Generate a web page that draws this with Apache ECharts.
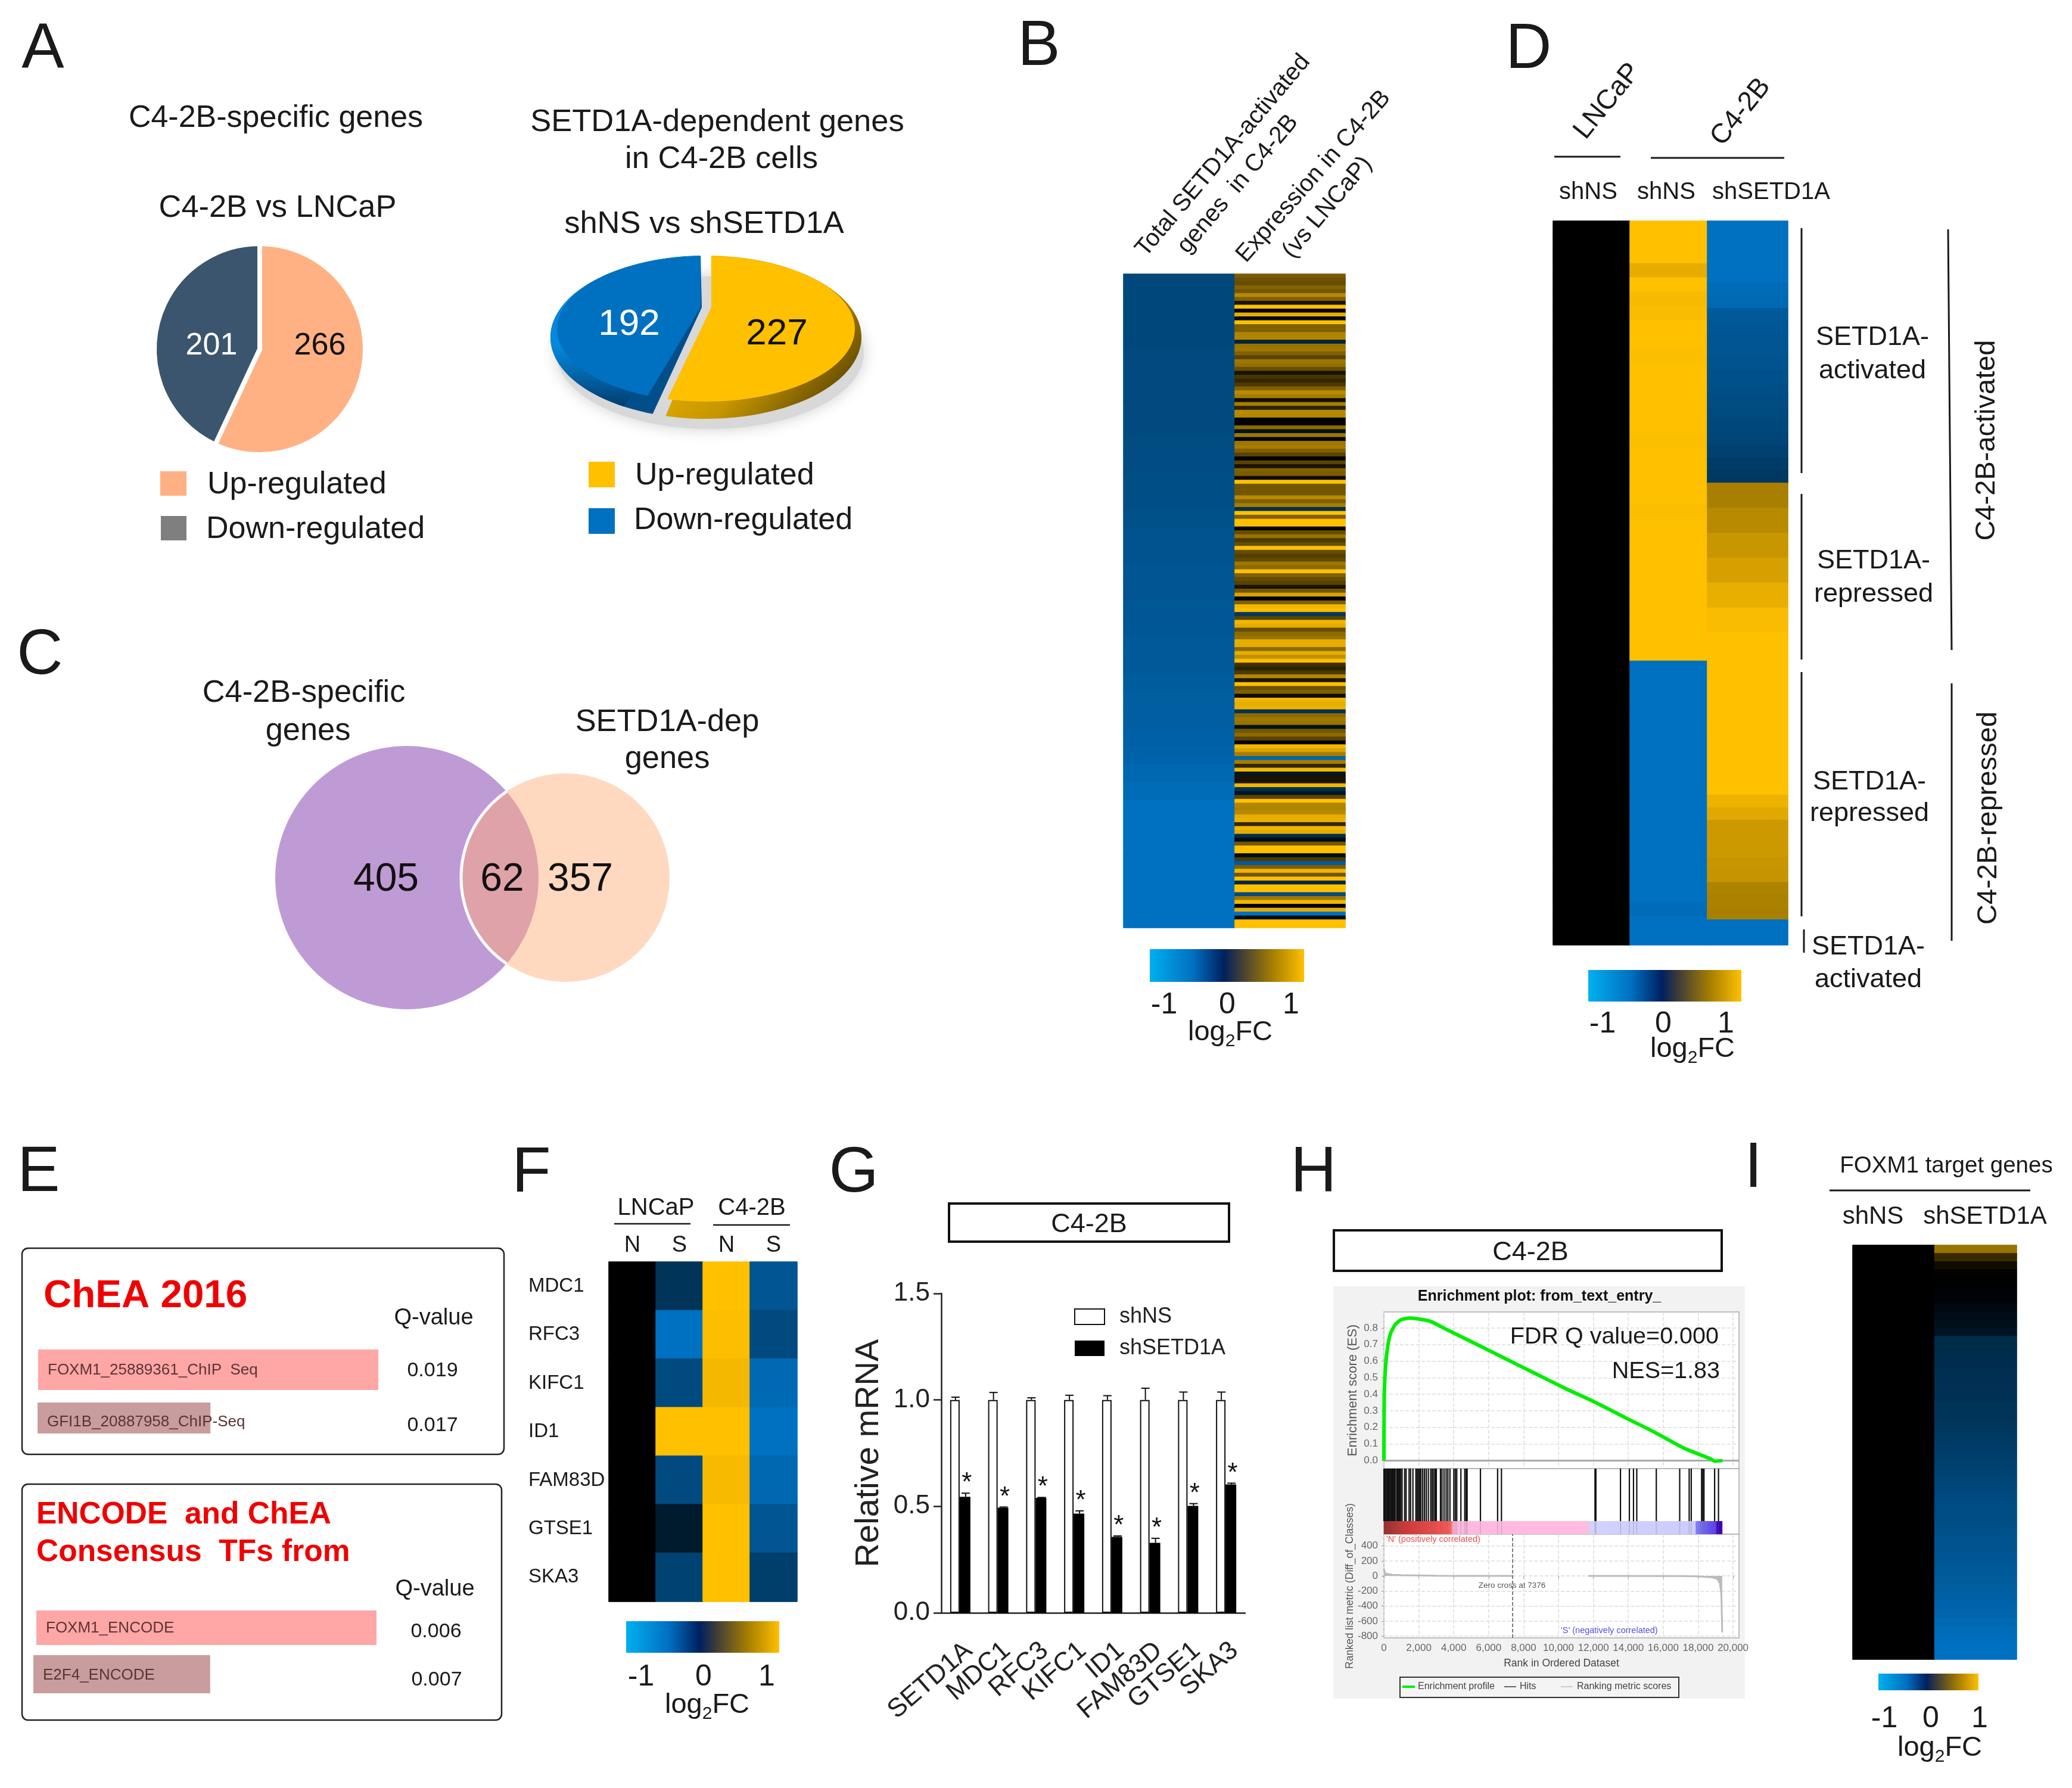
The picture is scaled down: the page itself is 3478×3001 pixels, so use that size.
<!DOCTYPE html>
<html><head><meta charset="utf-8">
<style>html,body{margin:0;padding:0;background:#fff}#c{width:3478px;height:3001px}</style>
<script src="https://cdn.jsdelivr.net/npm/echarts@6/dist/echarts.min.js"></script>
</head><body><div id="c"></div>
<script>
// ---- data ----
const pieAValues = [266, 201];
const pieBValues = [227, 192];
const vennValues = [405, 62, 357];
const pieLegendNames = ['Up-regulated', 'Down-regulated'];

const panelBTotal = [-.32,-.32,-.32,-.32,-.33,-.33,-.33,-.33,-.33,-.34,-.34,-.35,-.35,-.36,-.37,-.37,-.38,-.38,-.39,-.39,-.40,-.40,-.41,-.42,-.42,-.43,-.44,-.46,-.48,-.50,-.50,-.50,-.50,-.50,-.50,-.50];
const panelBExpr = [.48,.42,.40,.52,.45,.72,.5,.1,1,0,.9,-.05,1,.5,.5,.68,.7,-.15,.6,.62,.5,.35,.62,.58,.4,.1,.28,.2,.3,.5,.72,.65,.08,.65,.18,.72,.7,0,0,.55,-.08,.62,
 .02,.62,.65,.5,.35,0,.35,.1,.5,.48,.05,1,.45,.45,.45,.72,.5,.65,-.22,1,.5,1,1,.02,.4,.6,.3,.4,1,.4,.33,.38,.62,.55,1,.5,.4,.35,.1,.45,.85,0,.5,
 .95,.98,-.25,.35,.95,.9,.4,.55,.6,.9,.9,.55,.9,.75,1,.25,.18,.3,.7,.12,1,.42,.5,.06,.95,.9,.92,-.22,.55,.62,.6,-.08,.45,.55,.35,.02,.95,.85,.65,-.45,.65,.2,
 .95,-.1,.1,.1,.95,-.22,-.1,.35,1,.7,.68,.72,.9,.92,.2,.95,.9,-.2,-.05,.45,1,1,-.05,.3,-.4,.5,.95,.45,1,-.18,1,1,-.33,.62,.95,0,.9,-.5,-.05,1,1];

const panelDLNCaP = [0,0,0,0,0,0,0,0,0,0,0,0,0,0,0,0,0,0,0,0,0,0,0,0,0,0,0,0,0,0,0,0,0,0,0,0,0,0,0,0,0,0,0,0,0,0,0,0,0,0,0];
const panelDNS = [1,1,1,.9,1,.97,.98,1,1,.99,1,1,1,1,1,.99,1,1,1,1,.99,1,1,1,1,1,1,1,1,1,1,-.5,-.5,-.5,-.5,-.5,-.5,-.5,-.5,-.5,-.5,-.5,-.5,-.5,-.5,-.5,-.5,-.5,-.48,-.5,-.5];
const panelDKD = [-.5,-.5,-.5,-.5,-.5,-.48,-.47,-.4,-.39,-.38,-.38,-.37,-.36,-.35,-.34,-.33,-.32,-.31,-.29,-.27,-.25,.66,.66,.72,.72,.78,.78,.84,.84,.91,.91,.98,.98,1,1,1,1,1,1,1,1,1,1,1,1,1,.93,.88,.8,.8,.8,.78,.77,.68,.67,.66,-.5,-.5];

const genesF = ['MDC1','RFC3','KIFC1','ID1','FAM83D','GTSE1','SKA3'];
const panelFCols = ['N','S','N','S'];
const panelFLN = [0,0,0,0,0,0,0];
const panelFLS = [-.23,-.5,-.33,1,-.33,-.12,-.3];
const panelFCN = [1,.99,.96,1,.97,1,1];
const panelFCS = [-.38,-.33,-.47,-.5,-.46,-.38,-.28];

const panelINS = [0,0,0,0,0,0,0,0,0,0,0,0,0,0,0,0,0,0,0,0,0,0,0,0,0,0,0,0,0,0,0,0,0,0,0,0,0,0,0,0,0,0,0,0,0,0,0,0,0,0];
const panelIKD = [.6,.22,.06,.01,0,-.01,-.02,-.04,-.06,-.07,-.09,-.19,-.19,-.20,-.20,-.21,-.21,-.22,-.22,-.23,-.23,-.24,-.25,-.26,-.27,-.28,-.29,-.30,-.31,-.32,-.33,-.34,-.34,-.35,-.36,-.37,-.37,-.38,-.39,-.40,-.41,-.42,-.43,-.44,-.45,-.47,-.48,-.49,-.5,-.5];

const chea = ['FOXM1_25889361_ChIP  Seq','GFI1B_20887958_ChIP-Seq'];
const cheaScore = [100, 51];
const cheaQ = ['0.019','0.017'];
const encode = ['FOXM1_ENCODE','E2F4_ENCODE'];
const encodeScore = [100, 51];
const encodeQ = ['0.006','0.007'];

const genesG = ['SETD1A','MDC1','RFC3','KIFC1','ID1','FAM83D','GTSE1','SKA3'];
const shNS = [1,1,1,1,1,1,1,1];
const shNSErr = [.013,.035,.01,.022,.02,.055,.037,.037];
const shSETD1A = [.545,.494,.54,.466,.357,.329,.502,.603];
const shSETD1AErr = [.017,.003,.002,.013,.004,.021,.011,.006];

const esCurve = [[0,0],[17,.375],[85,.553],[220,.69],[390,.77],[645,.82],[984,.85],[1493,.86],[2086,.853],[2680,.84],[3613,.79],[5310,.702],[7000,.613],[8700,.524],[10400,.435],[12095,.352],[13790,.261],[15487,.172],[17183,.075],[18710,.01],[18965,-.004],[19390,0]];
const hitRanks = [0,60,120,180,240,300,360,420,480,540,600,640,730,790,850,910,970,1040,1187,1272,1442,1526,1662,1832,1900,1970,2040,2120,2222,2323,2425,2544,2680,2764,2849,2934,3002,3239,3324,3443,3562,3663,3782,4003,4087,4172,4410,4630,4715,4766,5529,6513,6733,12092,12143,13551,14060,14297,14484,15603,16943,17486,17605,18198,18266,18334,18944,19165];
const metricCurve = [[0,100],[30,60],[100,30],[500,15],[1000,10],[3000,3],[4000,1],[7376,0],[7377,null],[11700,null],[11701,0],[17000,-2],[18000,-5],[18800,-20],[19100,-40],[19250,-100],[19330,-250],[19380,-750]];
const rankTicks = [0,2000,4000,6000,8000,10000,12000,14000,16000,18000,20000];
const esTicks = [0,.1,.2,.3,.4,.5,.6,.7,.8];
const metricTicks = [-800,-600,-400,-200,0,200,400];
const rankExtent = [0,19390];

// ---- helpers ----
const FONT = "'Liberation Sans', Arial, sans-serif";
const G = echarts.graphic;
const graphics = [], grids = [], xAxes = [], yAxes = [], series = [], heatIdx = [];
const heatStops = ['#00B0F0','#0070C0','#000000','#806000','#FFC000'];

function heatColor(v){
  const p=(Math.max(-1,Math.min(1,v))+1)*2, i=Math.min(3,Math.floor(p)), f=p-i;
  const c=s=>[1,3,5].map(k=>parseInt(s.substr(k,2),16));
  const a=c(heatStops[i]), b=c(heatStops[i+1]);
  return 'rgb('+a.map((x,k)=>Math.round(x+(b[k]-x)*f)).join(',')+')';
}
function T(text, x, y, size, o) {
  o = o || {};
  const r=o.rot||0;
  graphics.push({type:'text', x:x+Math.sin(r)*8, y:y+Math.cos(r)*8, rotation:r, z:o.z||100, silent:true,
    style:{text:text, font:(o.italic?'italic ':'')+(o.bold?'bold ':'')+size+'px '+FONT, fill:o.fill||'#1a1a1a',
      textAlign:o.align||'center', textVerticalAlign:'middle'}});
}
function Rect(x,y,w,h,o){ o=o||{};
  graphics.push({type:'rect', z:o.z==null?50:o.z, silent:true, shape:{x:x,y:y,width:w,height:h,r:o.r||0},
    style:{fill:o.fill||'none', stroke:o.stroke||'none', lineWidth:o.lw||0, shadowBlur:o.blur||0, shadowColor:o.shadow||'transparent'}});
}
function L(x1,y1,x2,y2,w,c){
  graphics.push({type:'line', z:60, silent:true, shape:{x1:x1,y1:y1,x2:x2,y2:y2}, style:{stroke:c||'#1a1a1a', lineWidth:w||2}});
}
function colorbar(x,y,w,h,labels,ly,lx,lfy,size){
  Rect(x,y,w,h,{fill:new G.LinearGradient(0,0,1,0,[
    {offset:0,color:'#00B0F0'},{offset:.28,color:'#0070C0'},{offset:.48,color:'#002060'},
    {offset:.58,color:'#3a3a3a'},{offset:.8,color:'#A88000'},{offset:1,color:'#FFC000'}])});
  T('-1',labels[0],ly,size||50); T('0',labels[1],ly,size||50); T('1',labels[2],ly,size||50);
  graphics.push({type:'text', x:lx, y:lfy, z:100, silent:true, style:{text:'{a|log}{s|2}{a|FC}', textAlign:'center', textVerticalAlign:'middle',
    fill:'#1a1a1a', rich:{a:{fontSize:47,fontFamily:FONT,fill:'#1a1a1a',lineHeight:60},s:{fontSize:30,fontFamily:FONT,fill:'#1a1a1a',verticalAlign:'bottom',lineHeight:42}}}});
}
function addGrid(l,t,w,h,x,y,extra){
  const g = grids.length;
  grids.push(Object.assign({left:l,top:t,width:w,height:h,containLabel:false},extra||{}));
  xAxes.push(Object.assign({gridIndex:g},x)); yAxes.push(Object.assign({gridIndex:g},y));
  return g;
}
function idxArr(n){ return Array.from({length:n},(_,i)=>String(i)); }
function heat(name,l,t,w,h,cols,o){
  o=o||{};
  const rows = cols[0].length;
  const g = addGrid(l,t,w,h,
    Object.assign({type:'category',data:o.xcats||cols.map((_,i)=>String(i)),show:!!o.xcats,axisLine:{show:false},axisTick:{show:false},splitArea:{show:false}},o.xopt||{}),
    Object.assign({type:'category',data:o.ycats||idxArr(rows),inverse:true,show:!!o.ycats,axisLine:{show:false},axisTick:{show:false},splitArea:{show:false}},o.yopt||{}));
  const data=[]; cols.forEach((c,i)=>c.forEach((v,j)=>data.push({value:[i,j,v],itemStyle:{borderColor:heatColor(v),borderWidth:1}})));
  heatIdx.push(series.length);
  series.push({name:name,type:'heatmap',xAxisIndex:g,yAxisIndex:g,data:data,progressive:0,emphasis:{disabled:true},silent:true});
}

// ---- panel letters ----
[['A',72,76],['B',1744,71],['D',2566,76],['C',67,1093],['E',65,1961],['F',892,1962],['G',1433,1962],['H',2205,1961],['I',2943,1954]]
  .forEach(a=>T(a[0],a[1],a[2],107));

// ---- panel A ----
T('C4-2B-specific genes',463,191,52); T('C4-2B vs LNCaP',466,342,52.4);
T('SETD1A-dependent genes',1204,198,52.5); T('in C4-2B cells',1211,260,52.5); T('shNS vs shSETD1A',1182,369,52.5);
series.push({name:'C4-2B vs LNCaP',type:'pie',center:[436,586],radius:[0,177],startAngle:90,clockwise:true,silent:true,
  label:{show:false},labelLine:{show:false},
  itemStyle:{borderColor:'#fff',borderWidth:8},
  data:[{name:pieLegendNames[0],value:pieAValues[0],itemStyle:{color:'#FFB183'}},{name:pieLegendNames[1],value:pieAValues[1],itemStyle:{color:'#3C556E'}}]});
T(String(pieAValues[1]),355,573,52,{fill:'#fff'}); T(String(pieAValues[0]),537,573,52,{fill:'#111'});
Rect(269,791,44,41,{fill:'#FFB183'}); Rect(270,866,43,41,{fill:'#7F7F7F'});
T(pieLegendNames[0],348,806,52,{align:'left'}); T(pieLegendNames[1],346,881,52,{align:'left'});

// tilted pie
graphics.push({type:'ellipse',z:0,silent:true,shape:{cx:1192,cy:592,rx:258,ry:128},style:{fill:'#d8d8d8',shadowBlur:26,shadowColor:'#cfcfcf'}});
const tiltTotal = pieBValues[0]+pieBValues[1];
function arcPts(cx,cy,rx,ry,a0,a1,apex){
  const pts=apex.slice(); const n=60;
  for(let i=0;i<=n;i++){const t=(a0+(a1-a0)*i/n)*Math.PI/180; pts.push([cx+rx*Math.sin(t),cy-ry*Math.cos(t)]);}
  return pts;
}
series.push({name:'shNS vs shSETD1A',type:'custom',coordinateSystem:'none',silent:true,clip:false,
  data:pieBValues,
  renderItem:function(p,api){
    const i=p.dataIndex, v=api.value(0), sw=v/tiltTotal*360;
    const start = i===0?0:pieBValues[0]/tiltTotal*360, end=start+sw;
    const rimC = i===0 ? new G.LinearGradient(0,0,1,1,[{offset:0,color:'#FFC000'},{offset:.55,color:'#C79700'},{offset:.85,color:'#6b5000'},{offset:1,color:'#574100'}])
                       : new G.LinearGradient(0,0,0,1,[{offset:0,color:'#0085D8'},{offset:.6,color:'#0688DC'},{offset:1,color:'#003E70'}]);
    const face = i===0?'#FFC000':'#0070C0';
    const a0=i===0?start+2:start+5, a1=i===0?end:end-2;
    const apexR=i===0?[[1194,516]]:[[1178,516]];
    const apexF=i===0?[[1194,516]]:[[1176,516]];
    const kids=[];
    if(i===1) kids.push({type:'polygon',shape:{points:arcPts(1185,566,261,137,a0,a1,apexR)},style:{fill:'#004f8a'}});
    kids.push({type:'polygon',shape:{points:arcPts(1185,566,261,137,a0+(i===0?0:12),a1,apexF)},style:{fill:rimC}});
    kids.push({type:'polygon',shape:{points:arcPts(1185,552,250,122,a0+(i===0?0:3),a1,apexF)},style:{fill:face}});
    kids.push({type:'text',x:i===0?1304:1056,y:i===0?561:545,z2:5,style:{text:String(v),font:'62px '+FONT,fill:i===0?'#111':'#fff',textAlign:'center',textVerticalAlign:'middle'}});
    return {type:'group',children:kids};
  }});
Rect(988,775,44,43,{fill:'#FFC000'}); Rect(988,853,44,43,{fill:'#0070C0'});
T(pieLegendNames[0],1066,791,52,{align:'left'}); T(pieLegendNames[1],1064,866,52,{align:'left'});

// ---- panel C ----
T('C4-2B-specific',510,1156,52.4); T('genes',517,1220,52.4); T('SETD1A-dep',1120,1205,52.4); T('genes',1120,1267,52.4);
const vc1=[683,1473,221], vc2=[949,1473,175];
function lensPts(){
  const d=vc2[0]-vc1[0], a=(d*d+vc1[2]*vc1[2]-vc2[2]*vc2[2])/(2*d), h=Math.sqrt(vc1[2]*vc1[2]-a*a);
  const t1=Math.atan2(h,a), t2=Math.atan2(h,d-a), pts=[], arc=[];
  for(let i=0;i<=48;i++){const t=-t1+2*t1*i/48; pts.push([vc1[0]+vc1[2]*Math.cos(t),vc1[1]+vc1[2]*Math.sin(t)]);}
  for(let i=0;i<=48;i++){const t=t2-2*t2*i/48; const q=[vc2[0]-vc2[2]*Math.cos(t),vc2[1]+vc2[2]*Math.sin(t)]; pts.push(q); arc.push(q);}
  return {pts:pts,arc:arc};
}
series.push({name:'Venn',type:'custom',coordinateSystem:'none',silent:true,clip:false,data:vennValues,
  renderItem:function(p,api){
    const i=p.dataIndex, v=String(api.value(0)), lens=lensPts();
    if(i===0) return {type:'group',children:[
      {type:'circle',z2:1,shape:{cx:vc1[0],cy:vc1[1],r:vc1[2]},style:{fill:'#BF9BD6'}},
      {type:'text',z2:30,x:648,y:1477,style:{text:v,font:'66px '+FONT,fill:'#111',textAlign:'center',textVerticalAlign:'middle'}}]};
    if(i===2) return {type:'group',children:[
      {type:'circle',z2:2,shape:{cx:vc2[0],cy:vc2[1],r:vc2[2]},style:{fill:'#FFD9BF'}},
      {type:'text',z2:30,x:974,y:1477,style:{text:v,font:'66px '+FONT,fill:'#111',textAlign:'center',textVerticalAlign:'middle'}}]};
    return {type:'group',children:[
      {type:'polygon',z2:10,shape:{points:lens.pts},style:{fill:'#DFA2A8'}},
      {type:'polyline',z2:11,shape:{points:lens.arc},style:{fill:'none',stroke:'#fff',lineWidth:5}},
      {type:'text',z2:30,x:843,y:1477,style:{text:v,font:'66px '+FONT,fill:'#111',textAlign:'center',textVerticalAlign:'middle'}}]};
  }});

// ---- panel B ----
heat('Total SETD1A-activated',1886,460,187,1097,[panelBTotal]);
heat('Expression in C4-2B',2073,460,185,1097,[panelBExpr]);
T('Total SETD1A-activated',2047,256,40.5,{rot:0.87});
T('genes  in C4-2B',2072,304,40.5,{rot:0.87});
T('Expression in C4-2B',2199,291,40.5,{rot:0.85});
T('(vs LNCaP)',2222,343,40.5,{rot:0.87});
colorbar(1930,1593,259,55,[1954,2060,2167],1679,2065,1733);

// ---- panel D ----
heat('Panel D LNCaP shNS',2607,371,129,1215,[panelDLNCaP]);
heat('Panel D C4-2B shNS',2736,371,130,1215,[panelDNS]);
heat('Panel D C4-2B shSETD1A',2866,371,135,1215,[panelDKD]);
T('LNCaP',2692,165,46,{rot:0.89}); T('C4-2B',2916,183,46,{rot:0.89});
L(2609,263,2720,263,3); L(2771,265,2995,265,3);
T('shNS',2666,315,40); T('shNS',2797,315,40); T('shSETD1A',2973,315,40);
L(3024,383,3024,794,3); L(3024,829,3024,1107,3); L(3024,1128,3024,1538,3); L(3028,1560,3028,1599,3);
L(3270,385,3276,1091,3); L(3276,1147,3276,1579,3);
T('SETD1A-',3143,559,45); T('activated',3143,615,45); T('SETD1A-',3145,934,45); T('repressed',3145,990,45);
T('SETD1A-',3138,1305,45); T('repressed',3138,1358,45); T('SETD1A-',3136,1582,45); T('activated',3136,1637,45);
T('C4-2B-activated',3327,739,47,{rot:Math.PI/2}); T('C4-2B-repressed',3330,1373,47,{rot:Math.PI/2});
colorbar(2666,1628,257,53,[2690,2792,2897],1711,2841,1761);

// ---- panel E ----
Rect(37,2095,809,346,{stroke:'#222',lw:2.5,r:10,z:10}); Rect(37,2491,805,396,{stroke:'#222',lw:2.5,r:10,z:10});
T('ChEA 2016',73,2168,65.5,{bold:true,fill:'#F00000',align:'left'}); T('Q-value',728,2205,38);
T(cheaQ[0],726,2293,34); T(cheaQ[1],726,2385,34);
T('ENCODE  and ChEA',61,2535,51.5,{bold:true,fill:'#F00000',align:'left'}); T('Consensus  TFs from',61,2598,51.5,{bold:true,fill:'#F00000',align:'left'});
T('Q-value',730,2660,38); T(encodeQ[0],732,2731,34); T(encodeQ[1],733,2812,34);
function enrichBar(name,cat,score,l,t,h,w,color,dy){
  const g=addGrid(l,t,w,h,{type:'value',min:0,max:100,show:false},{type:'category',data:[cat],show:false});
  series.push({name:name,type:'bar',xAxisIndex:g,yAxisIndex:g,barWidth:'100%',silent:true,itemStyle:{color:color},
    label:{show:true,position:'insideLeft',distance:16,offset:[0,dy],fontSize:26,fontFamily:FONT,color:'#5c3434',formatter:p=>p.name},data:[score]});
}
enrichBar('ChEA top',chea[0],cheaScore[0],64,2265,68,571,'#FFA6A6',1);
enrichBar('ChEA second',chea[1],cheaScore[1],63,2354,52,569,'#C99D9D',7);
enrichBar('ENCODE top',encode[0],encodeScore[0],61,2703,58,571,'#FFA6A6',1);
enrichBar('ENCODE second',encode[1],encodeScore[1],56,2778,64,582,'#C99D9D',2);

// ---- panel F ----
heat('Panel F',1022,2118,316,570,[panelFLN,panelFLS,panelFCN,panelFCS],{
  xcats:panelFCols, ycats:genesF,
  xopt:{position:'top',axisLabel:{show:true,fontSize:38,fontFamily:FONT,color:'#1a1a1a',margin:8,interval:0}},
  yopt:{axisLabel:{show:true,fontSize:33,fontFamily:FONT,color:'#1a1a1a',align:'left',margin:135,interval:0}}});
T('LNCaP',1101,2020,40); T('C4-2B',1262,2020,40);
L(1031,2054,1159,2054,2.5); L(1197,2056,1326,2056,2.5);
colorbar(1051,2721,257,53,[1076,1181,1287],2807,1187,2862);

// ---- panel G ----
Rect(1593,2020,470,64,{stroke:'#111',lw:4}); T('C4-2B',1828,2048,45);
const gGrid=addGrid(1580,2171,510,536,
  {type:'category',data:genesG,axisLine:{lineStyle:{color:'#222',width:2.5}},axisTick:{alignWithLabel:true,length:13,lineStyle:{color:'#222',width:2.5}},
   axisLabel:{rotate:41,interval:0,fontSize:44,fontFamily:FONT,color:'#222',margin:41,verticalAlign:'top',align:'right'}},
  {type:'value',min:0,max:1.5,interval:.5,name:'Relative mRNA',nameLocation:'middle',nameGap:93,nameTextStyle:{fontSize:56,fontFamily:FONT,color:'#222'},
   splitLine:{show:false},axisLine:{show:true,lineStyle:{color:'#222',width:2.5}},axisTick:{show:true,length:13,lineStyle:{color:'#222',width:2.5}},
   axisLabel:{fontSize:44,fontFamily:FONT,color:'#222',margin:19,formatter:v=>v.toFixed(1)}});
series.push({name:'shNS',type:'bar',xAxisIndex:gGrid,yAxisIndex:gGrid,barWidth:16,barGap:0,silent:true,itemStyle:{color:'#fff',borderColor:'#111',borderWidth:2},data:shNS});
series.push({name:'shSETD1A',type:'bar',xAxisIndex:gGrid,yAxisIndex:gGrid,barWidth:18,barGap:0,silent:true,itemStyle:{color:'#000'},data:shSETD1A});
function errData(v,e){return v.map((m,i)=>[i,m,m+e[i]]);}
function errSeries(name,data,off,star){
  series.push({name:name,type:'custom',xAxisIndex:gGrid,yAxisIndex:gGrid,silent:true,clip:false,data:data,
    renderItem:function(p,api){
      const a=api.coord([api.value(0),api.value(1)]), b=api.coord([api.value(0),api.value(2)]);
      const x=a[0]+off, ch=[
        {type:'line',shape:{x1:x,y1:a[1],x2:x,y2:b[1]},style:{stroke:'#111',lineWidth:2}},
        {type:'line',shape:{x1:x-7,y1:b[1],x2:x+7,y2:b[1]},style:{stroke:'#111',lineWidth:2}}];
      if(star) ch.push({type:'text',x:x+2,y:b[1]-16,style:{text:'*',font:'44px '+FONT,fill:'#111',textAlign:'center',textVerticalAlign:'middle'}});
      return {type:'group',children:ch};
    }});
}
errSeries('shNS error',errData(shNS,shNSErr),-8,false);
errSeries('shSETD1A error',errData(shSETD1A,shSETD1AErr),9,true);

// ---- panel H ----
Rect(2239,2065,651,68,{stroke:'#111',lw:4}); T('C4-2B',2569,2095,45);
Rect(2238,2159,691,692,{fill:'#F2F2F2',z:-1});
T('Enrichment plot: from_text_entry_',2584,2168,25,{bold:true,fill:'#111'});
T('FDR Q value=0.000',2885,2236,39.5,{align:'right'}); T('NES=1.83',2887,2294,39.5,{align:'right'});
const gridBox={show:true,backgroundColor:'#fff',borderColor:'#aaa',borderWidth:1.5};
const gridDash={show:true,lineStyle:{color:'#ddd',type:'dashed',width:1.5}};
const grayLab={fontSize:17,fontFamily:FONT,color:'#666'};
const gEs=addGrid(2323,2202,596,263,
  {type:'value',min:0,max:20339,axisLine:{show:false},axisTick:{show:false,customValues:rankTicks},axisLabel:{show:false,customValues:rankTicks},splitLine:gridDash},
  {type:'value',min:-.049,max:.897,name:'Enrichment score (ES)',nameLocation:'middle',nameGap:41,nameTextStyle:{fontSize:22,fontFamily:FONT,color:'#555'},
   axisLine:{show:false},axisTick:{show:true,length:4,lineStyle:{color:'#999'},customValues:esTicks},splitLine:gridDash,
   axisLabel:Object.assign({margin:10,customValues:esTicks,formatter:v=>v.toFixed(1)},grayLab)},gridBox);
series.push({name:'Enrichment profile',type:'line',xAxisIndex:gEs,yAxisIndex:gEs,data:esCurve,showSymbol:false,smooth:.2,silent:true,clip:false,
  lineStyle:{color:'#00EE00',width:6},z:5,
  markLine:{silent:true,symbol:'none',label:{show:false},lineStyle:{color:'#aaa',width:3,type:'solid'},data:[{yAxis:0}],z:3}});
const gHit=addGrid(2323,2465,596,110,{type:'value',min:0,max:20339,show:false},{type:'value',min:0,max:1,show:false},gridBox);
series.push({name:'Rank colour band',type:'custom',xAxisIndex:gHit,yAxisIndex:gHit,silent:true,data:[rankExtent],
  renderItem:function(p,api){
    const a=api.coord([api.value(0),.2]), b=api.coord([api.value(1),0]);
    return {type:'rect',shape:{x:a[0],y:a[1],width:b[0]-a[0],height:b[1]-a[1]},style:{fill:new G.LinearGradient(0,0,1,0,[
      {offset:0,color:'#A81C1C'},{offset:.05,color:'#D03030'},{offset:.12,color:'#F04040'},{offset:.19,color:'#FF5555'},{offset:.2,color:'#FF7070'},
      {offset:.205,color:'#FFB8E0'},{offset:.405,color:'#FFBBE0'},{offset:.605,color:'#FFBBE0'},{offset:.607,color:'#D2D2FF'},
      {offset:.92,color:'#CCCCFF'},{offset:.922,color:'#7F7FF5'},{offset:.98,color:'#5A3FE8'},{offset:.985,color:'#4000B8'},{offset:1,color:'#4000B8'}])}};
  }});
series.push({name:'Hits',type:'custom',xAxisIndex:gHit,yAxisIndex:gHit,silent:true,data:hitRanks.map(r=>[r]),
  renderItem:function(p,api){
    const a=api.coord([api.value(0),1]), m=api.coord([api.value(0),.2]), b=api.coord([api.value(0),0]);
    return {type:'group',children:[
      {type:'line',shape:{x1:a[0],y1:a[1],x2:m[0],y2:m[1]},style:{stroke:'#111',lineWidth:2.2}},
      {type:'line',shape:{x1:m[0],y1:m[1],x2:b[0],y2:b[1]},style:{stroke:'rgba(110,110,110,.22)',lineWidth:2}}]};
  }});
const gMet=addGrid(2323,2575,596,174,
  {type:'value',min:0,max:20339,axisLine:{show:false},axisTick:{show:true,length:4,lineStyle:{color:'#999'},customValues:rankTicks},splitLine:gridDash,
   axisLabel:Object.assign({margin:9,customValues:rankTicks,formatter:v=>v.toLocaleString('en-US')},grayLab),
   name:'Rank in Ordered Dataset',nameLocation:'middle',nameGap:34,nameTextStyle:{fontSize:17.5,fontFamily:FONT,color:'#444'}},
  {type:'value',min:-823,max:555,name:'Ranked list metric (Diff_of_Classes)',nameLocation:'middle',nameGap:45,nameTextStyle:{fontSize:17.5,fontFamily:FONT,color:'#555'},
   axisLine:{show:false},axisTick:{show:true,length:4,lineStyle:{color:'#999'},customValues:metricTicks},splitLine:gridDash,
   axisLabel:Object.assign({margin:10,customValues:metricTicks},grayLab)},gridBox);
series.push({name:'Ranking metric scores',type:'line',xAxisIndex:gMet,yAxisIndex:gMet,data:metricCurve,showSymbol:false,silent:true,connectNulls:false,
  lineStyle:{color:'#bbb',width:3},areaStyle:{color:'#bbb',opacity:1},
  markLine:{silent:true,symbol:'none',label:{show:false},lineStyle:{color:'#555',width:1.5,type:'dashed'},data:[{xAxis:7376}]}});
T("'N' (positively correlated)",2327,2576,14.5,{align:'left',fill:'#F05050'});
T("'S' (negatively correlated)",2620,2729,14.5,{align:'left',fill:'#5050E0'});
T('Zero cross at 7376',2538,2653,13.5,{fill:'#555'});
Rect(2350,2815,468,34,{stroke:'#333',lw:2,fill:'#F4F4F4',z:20});
L(2354,2831,2375,2831,4,'#00EE00'); T('Enrichment profile',2380,2823,16,{align:'left',fill:'#444'});
L(2525,2831,2545,2831,2,'#666'); T('Hits',2551,2823,16,{align:'left',fill:'#444'});
L(2620,2831,2640,2831,2,'#ccc'); T('Ranking metric scores',2647,2823,16,{align:'left',fill:'#444'});

// ---- panel I ----
heat('FOXM1 target genes',3110,2090,275,695,[panelINS,panelIKD]);
T('FOXM1 target genes',3267,1949,38.5); L(3071,1998,3408,1998,3);
T('shNS',3144,2034,42); T('shSETD1A',3332,2034,42);
colorbar(3153,2809,168,28,[3163,3241,3323],2877,3256,2934);

const chart=echarts.init(document.getElementById('c'),null,{renderer:'canvas',devicePixelRatio:1});
chart.setOption({
  animation:false, backgroundColor:'#fff',
  textStyle:{fontFamily:FONT},
  tooltip:{show:false},
  grid:grids, xAxis:xAxes, yAxis:yAxes,
  visualMap:{type:'continuous',show:false,seriesIndex:heatIdx,dimension:2,min:-1,max:1,inRange:{color:heatStops}},
  legend:{data:['shNS','shSETD1A'],orient:'vertical',left:1803,top:2192,padding:0,itemWidth:50,itemHeight:26,itemGap:17,
    icon:'rect',selectedMode:false,textStyle:{fontSize:36,fontFamily:FONT,color:'#222',padding:[0,0,0,20]}},
  graphic:{elements:graphics},
  series:series
});
</script></body></html>
